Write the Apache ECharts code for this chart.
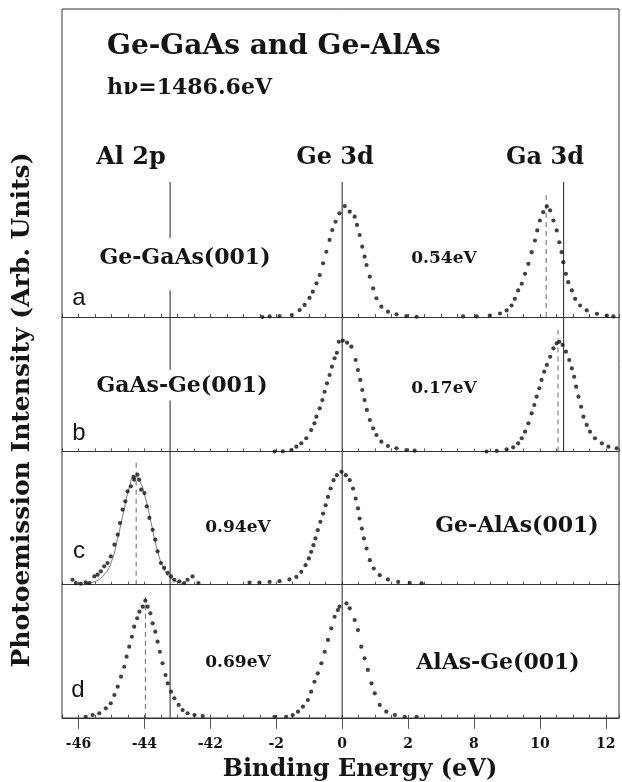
<!DOCTYPE html>
<html>
<head>
<meta charset="utf-8">
<title>Ge-GaAs and Ge-AlAs</title>
<script src="https://cdn.jsdelivr.net/npm/echarts@6/dist/echarts.min.js"></script>
<style>
  html, body { margin: 0; padding: 0; background: #fff; }
  #chart { width: 622px; height: 782px; }
</style>
</head>
<body>
<div id="chart"></div>
<script>
// spectra: [binding energy (eV), intensity (arb.)]
// panel a : Ge-GaAs(001)
const geA = [[-2.42,0],[-2.2,0.4],[-1.9,0.7],[-1.53,1.5],[-1.29,5.2],[-1.14,9],[-0.99,14.2],[-0.89,18.9],
  [-0.78,25.1],[-0.68,31.3],[-0.58,40.1],[-0.48,48.7],[-0.38,57.5],[-0.3,64.9],[-0.2,71.1],[-0.08,77.4],
  [0.08,82.8],[0.23,78.6],[0.38,74.9],[0.45,68.7],[0.53,61.2],[0.61,52.5],[0.68,45],[0.74,38.8],
  [0.84,30.1],[0.94,21.4],[1.04,14],[1.19,7.7],[1.39,4],[1.65,2],[1.95,0.7],[2.26,0.2]];
const gaA = [[7.67,0.4],[8.08,0.4],[8.48,1.1],[8.79,2.6],[8.99,4.9],[9.14,8.6],[9.24,13.6],[9.34,19.8],
  [9.45,24.8],[9.55,32.2],[9.65,39.7],[9.75,48.4],[9.85,57.1],[9.92,64.6],[10.0,72],[10.1,78.2],
  [10.21,82.5],[10.31,79.5],[10.41,72],[10.51,64.6],[10.59,55.8],[10.66,48.4],[10.71,40.9],[10.79,32.2],
  [10.86,26],[10.97,19.8],[11.07,13.6],[11.22,8.6],[11.42,4.9],[11.73,2.4],[12.03,1.1],[12.23,0.4]];
// panel b : GaAs-Ge(001)
const geB = [[-2.05,0],[-1.8,0.1],[-1.54,1.1],[-1.39,3.6],[-1.24,6.1],[-1.09,9.9],[-0.94,16],[-0.84,21],
  [-0.78,26],[-0.68,32.2],[-0.6,38.4],[-0.53,44.6],[-0.46,50.9],[-0.38,57.1],[-0.31,63.3],[-0.23,69.6],
  [-0.16,73.7],[-0.1,81.9],[0.02,82.7],[0.15,81.2],[0.28,78.2],[0.41,68.3],[0.48,60.8],[0.55,53.4],
  [0.61,45.9],[0.68,38.4],[0.75,31],[0.84,23.5],[0.94,17.3],[1.04,12.3],[1.19,7.3],[1.39,4.1],
  [1.65,2.4],[1.95,1.1],[2.2,0.6]];
const gaB = [[8.38,0],[8.69,0.4],[8.99,1.6],[9.19,3.1],[9.34,6.1],[9.45,9.9],[9.55,14.8],[9.65,21],
  [9.75,28.5],[9.83,34.7],[9.9,40.9],[9.98,47.2],[10.05,53.4],[10.13,59.6],[10.21,64.6],[10.31,70.7],
  [10.41,77],[10.51,80.7],[10.59,81.9],[10.69,79.5],[10.79,74.5],[10.89,68.3],[10.97,62.1],[11.04,55.8],
  [11.1,48.4],[11.17,40.9],[11.25,33.4],[11.32,26],[11.42,19.8],[11.52,14.8],[11.67,9.9],[11.88,6.1],
  [12.08,3.6],[12.33,2.4]];
// panel c : Ge-AlAs(001)
const alC = [[-46.18,3.7],[-46.08,1.2],[-45.93,0.7],[-45.78,1.7],[-45.67,1.2],[-45.52,6.2],[-45.42,7.5],
  [-45.32,9.9],[-45.22,13.7],[-45.12,16.2],[-45.02,21.1],[-44.91,29.9],[-44.81,37.3],[-44.74,46],
  [-44.66,56],[-44.58,62.2],[-44.51,69.6],[-44.41,73.4],[-44.33,80.4],[-44.31,78.4],[-44.21,82.1],
  [-44.16,78.4],[-44.1,70.9],[-44.0,68.4],[-43.93,58.4],[-43.85,49.8],[-43.75,41],[-43.67,33.6],
  [-43.6,24.9],[-43.5,16.2],[-43.4,12.5],[-43.29,8.8],[-43.19,6.2],[-43.09,3.7],[-42.94,2.5],
  [-42.79,1.2],[-42.69,3.7],[-42.54,6.2],[-42.36,1.2]];
const alCfit = [[-45.98,0],[-45.52,2.2],[-45.22,7.5],[-45.0,17.2],[-44.82,33.6],[-44.63,54.5],[-44.46,72.4],
  [-44.31,80.6],[-44.16,78.4],[-43.97,64.9],[-43.79,45.5],[-43.61,26.1],[-43.42,12.7],[-43.18,4.5],[-42.79,0.7]];
const geC = [[-2.81,1.6],[-2.51,1.6],[-2.2,2.1],[-1.9,2.6],[-1.6,3.9],[-1.39,5.8],[-1.24,9.6],[-1.11,14.6],
  [-1.01,19.6],[-0.94,24.5],[-0.87,29.5],[-0.81,34.5],[-0.74,40.7],[-0.66,46.9],[-0.58,53.1],[-0.5,59.3],
  [-0.43,65.5],[-0.35,71.8],[-0.26,78],[-0.16,81.7],[-0.02,84.2],[0.11,81.7],[0.23,78],[0.33,71.8],
  [0.41,64.3],[0.48,56.9],[0.53,49.4],[0.6,41.9],[0.66,34.5],[0.74,27],[0.84,18.3],[0.96,12.1],
  [1.14,7.1],[1.39,3.9],[1.7,2.1],[2.05,1.3],[2.41,1.1]];
// panel d : AlAs-Ge(001)
const alD = [[-45.78,0.8],[-45.57,2.1],[-45.37,3.4],[-45.17,7.1],[-45.02,10.8],[-44.91,17],[-44.81,23.2],
  [-44.71,30.7],[-44.61,38.1],[-44.54,45.6],[-44.46,53.1],[-44.38,60.5],[-44.31,68],[-44.22,74.3],
  [-44.15,79.2],[-44.05,82.9],[-43.97,87.4],[-43.9,82.9],[-43.82,78],[-43.75,70.5],[-43.67,64.3],
  [-43.6,56.8],[-43.53,49.3],[-43.45,40.7],[-43.36,31.9],[-43.29,25.7],[-43.19,19.5],[-43.09,14.6],
  [-42.96,9.6],[-42.84,5.8],[-42.69,3.4],[-42.48,2.1],[-42.23,1.3]];
const geD = [[-2.05,0.8],[-1.7,0.8],[-1.5,2.1],[-1.34,4.6],[-1.19,8.3],[-1.04,13.3],[-0.94,19.5],[-0.84,26.9],
  [-0.74,33.2],[-0.63,40.7],[-0.53,49.3],[-0.43,58.1],[-0.33,66.8],[-0.23,75.4],[-0.13,80.4],[-0.08,82.9],
  [0.13,85.4],[0.23,81.7],[0.38,73],[0.48,65.5],[0.58,53.1],[0.68,44.4],[0.78,35.7],[0.89,25.7],
  [0.99,18.3],[1.14,9.6],[1.34,4.6],[1.6,2.1],[1.9,0.8],[2.26,0.8]];

// reference lines: solid = core level positions, dashed = shifted peak
// [panel, energy, from, to]
const solidSegs = [
  [0, -43.22, 0, 20], [0, -43.22, 59, 100.7], [0, 0, 0, 100.7], [0, 10.72, 0, 100.7],
  [1, -43.22, 0, 38], [1, -43.22, 61, 100.3], [1, 0, 0, 100.3], [1, 10.72, 0, 100.3],
  [2, -43.22, 0, 99.3], [2, 0, 0, 99.3],
  [3, -43.22, 0, 99.3], [3, 0, 0, 99.3]
];
const dashSegs = [[0, 10.19, 0, 91], [1, 10.55, 0, 90.7], [2, -44.25, 0, 91.8], [3, -43.97, 0, 90.1]];

const tickE = [-46, -44, -42, -2, 0, 2, 8, 10, 12];
const panelLetters = ['a', 'b', 'c', 'd'];
const sampleNames = ['Ge-GaAs(001)', 'GaAs-Ge(001)', 'Ge-AlAs(001)', 'AlAs-Ge(001)'];
const offsets = ['0.54eV', '0.17eV', '0.94eV', '0.69eV'];

// broken energy axis: Al 2p | Ge 3d | Ga 3d squeezed onto one scale
function toAxis(e) {
  if (e < -20) return e + 38;
  if (e > 5) return e - 4;
  return e;
}
function fromAxis(v) {
  if (v <= -4) return v - 38;
  if (v >= 4) return v + 4;
  return v;
}

var chart = echarts.init(document.getElementById('chart'));

var pxPerUnit = 1.34;
var grids = [
  { left: 62, right: 3, top: 177, height: 140 },
  { left: 62, right: 3, top: 317, height: 134.5 },
  { left: 62, right: 3, top: 451.5, height: 133.2 },
  { left: 62, right: 3, top: 584.7, height: 133.1 }
];
var serif = '"DejaVu Serif", "Liberation Serif", serif';
var ink = '#151515';

var xAxes = [], yAxes = [];
grids.forEach(function (g, i) {
  xAxes.push({
    type: 'value', gridIndex: i, min: -8.5, max: 8.4, interval: 0.5,
    axisLine: { show: true, onZero: false, lineStyle: { color: '#333', width: 1 } },
    axisTick: { show: true, inside: true, length: 3, lineStyle: { color: '#555' } },
    axisLabel: { show: false }, splitLine: { show: false }
  });
  yAxes.push({
    type: 'value', gridIndex: i, min: 0, max: g.height / pxPerUnit,
    show: false, splitLine: { show: false }
  });
});
// bottom axis with the broken labels
xAxes.push({
  type: 'value', gridIndex: 3, min: -8.5, max: 8.4, position: 'bottom',
  axisLine: { show: false },
  axisTick: { show: true, length: 11, customValues: tickE.map(toAxis), lineStyle: { color: '#555' } },
  axisLabel: {
    show: true, margin: 20, customValues: tickE.map(toAxis),
    formatter: function (v) { return String(Math.round(fromAxis(v))); },
    fontFamily: serif, fontWeight: 'bold', fontSize: 14, color: ink
  },
  splitLine: { show: false }
});

function pts(arr) { return arr.map(function (p) { return [toAxis(p[0]), p[1]]; }); }

var panelData = [[geA, gaA], [geB, gaB], [alC, geC], [alD, geD]];
var series = [];
panelData.forEach(function (list, i) {
  var all = [];
  list.forEach(function (arr) { all = all.concat(pts(arr)); });
  series.push({
    type: 'scatter', xAxisIndex: i, yAxisIndex: i, data: all, z: 3,
    symbol: 'circle', symbolSize: 4.2, clip: false,
    itemStyle: { color: '#111' }, silent: true
  });
});
// vertical reference segments, each its own little line series
function addSeg(s, dashed) {
  var x = toAxis(s[1]);
  series.push({
    type: 'line', xAxisIndex: s[0], yAxisIndex: s[0], data: [[x, s[2]], [x, s[3]]],
    showSymbol: false, clip: false, silent: true, z: 2,
    lineStyle: dashed ? { color: '#444', width: 0.8, type: [5, 4] } : { color: '#222', width: 1 }
  });
}
solidSegs.forEach(function (s) { addSeg(s, false); });
dashSegs.forEach(function (s) { addSeg(s, true); });
series.push({
  type: 'line', xAxisIndex: 2, yAxisIndex: 2, data: pts(alCfit), smooth: true,
  showSymbol: false, lineStyle: { color: '#555', width: 0.8 }, silent: true
});

function txt(s, x, y, size, opts) {
  opts = opts || {};
  return {
    type: 'text', x: x, y: y, rotation: opts.rot || 0, z: 10,
    style: {
      text: s, x: 0, y: 0, fill: ink,
      font: (opts.weight || 'bold') + ' ' + size + 'px ' + (opts.family || serif),
      textAlign: opts.align || 'center', textVerticalAlign: 'middle'
    }
  };
}

var sans = '"Liberation Sans", Arial, sans-serif';
var graphics = [
  { type: 'rect', shape: { x: 62, y: 9, width: 557, height: 709 }, z: 5,
    style: { fill: 'none', stroke: '#333', lineWidth: 1 } },
  txt('Ge-GaAs and Ge-AlAs', 107, 47, 28, { align: 'left' }),
  txt('hν=1486.6eV', 107, 88, 22, { align: 'left' }),
  txt('Al 2p', 131, 158, 24),
  txt('Ge 3d', 335, 158, 24),
  txt('Ga 3d', 545, 158, 24),
  txt(sampleNames[0], 185, 258, 22),
  txt(sampleNames[1], 182, 386, 22),
  txt(sampleNames[2], 517, 526, 22),
  txt(sampleNames[3], 498, 663, 22),
  txt(offsets[0], 444, 259, 17),
  txt(offsets[1], 444, 389, 17),
  txt(offsets[2], 238, 528, 17),
  txt(offsets[3], 238, 663, 17),
  txt(panelLetters[0], 79, 298, 24, { weight: 'normal', family: sans }),
  txt(panelLetters[1], 79, 433, 24, { weight: 'normal', family: sans }),
  txt(panelLetters[2], 79, 551, 24, { weight: 'normal', family: sans }),
  txt(panelLetters[3], 78, 690, 24, { weight: 'normal', family: sans }),
  txt('Binding Energy (eV)', 360, 770, 24),
  txt('Photoemission Intensity (Arb. Units)', 22, 410, 25, { rot: Math.PI / 2 })
];

var option = {
  backgroundColor: '#fff',
  animation: false,
  grid: grids,
  xAxis: xAxes,
  yAxis: yAxes,
  series: series,
  graphic: graphics
};
option && chart.setOption(option);
</script>
</body>
</html>
